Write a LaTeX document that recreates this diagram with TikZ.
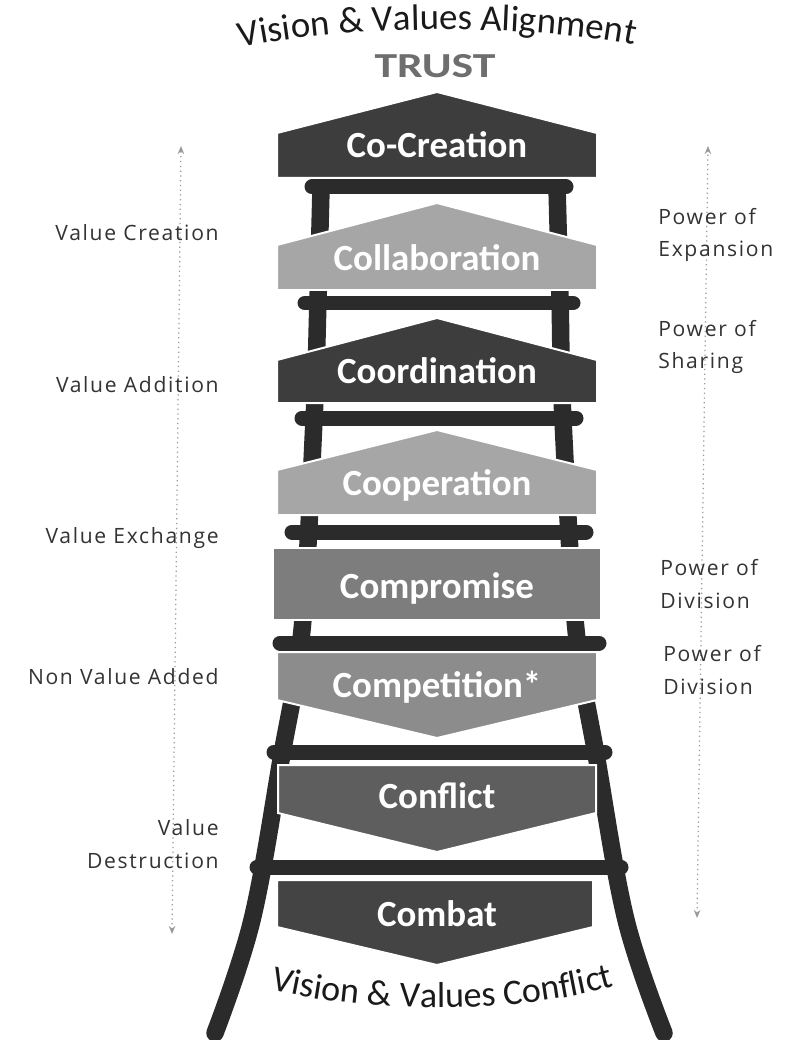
\documentclass[tikz,border=0pt]{standalone}
\usepackage{fontspec}
\setmainfont{Carlito}
\newfontfamily\labfont[LetterSpace=8]{Open Sans}
\usetikzlibrary{arrows.meta,decorations.text}
\definecolor{ladder}{HTML}{2B2B2B}
\definecolor{cdark}{HTML}{3D3D3D}
\definecolor{clight}{HTML}{A6A6A6}
\definecolor{cmid}{HTML}{7D7D7D}
\definecolor{ccomp}{HTML}{8C8C8C}
\definecolor{cconf}{HTML}{5E5E5E}
\definecolor{ccombat}{HTML}{444444}
\definecolor{labtext}{HTML}{333333}
\definecolor{arrowgray}{HTML}{9A9A9A}
\definecolor{trustgray}{HTML}{6E6E6E}
\definecolor{titletext}{HTML}{1A1A1A}
\begin{document}
\begin{tikzpicture}[x=0.02cm,y=-0.02cm,
  leg/.style={draw=ladder, line width=0.35cm, line cap=round},
  rung/.style={draw=ladder, line width=0.3cm, line cap=round},
  boxshape/.style={draw=white, line width=0.04cm, line join=miter},
  boxtext/.style={text=white, font=\bfseries\fontsize{21}{25}\selectfont, inner sep=0, anchor=base},
  lab/.style={text=labtext, font=\labfont\fontsize{12}{18.7}\selectfont, inner sep=0},
  dimarrow/.style={draw=arrowgray, dotted, line width=0.025cm, {Stealth[length=0.16cm,width=0.13cm]}-{Stealth[length=0.16cm,width=0.13cm]}}
]
\fill[white] (0,0) rectangle (786,1040);
\useasboundingbox (0,0) rectangle (786,1040);

% legs
\draw[leg] plot[smooth, tension=0.6] coordinates {(322,150) (318,300) (314,420) (302,630) (281,760) (252,920) (215,1033)};
\draw[leg] plot[smooth, tension=0.6] coordinates {(556,150) (560,300) (563,420) (576,630) (597,760) (626,920) (664,1033)};

% rungs
\draw[rung] (312,187) -- (566,187);
\draw[rung] (305,303) -- (573,303);
\draw[rung] (302,418) -- (576,418);
\draw[rung] (292,532) -- (586,532);
\draw[rung] (280,643) -- (599,643);
\draw[rung] (274,752) -- (605,752);
\draw[rung] (257,867) -- (621,867);

% steps
\filldraw[boxshape, fill=cdark] (277,178) -- (277,133) -- (437,92) -- (597,133) -- (597,178) -- cycle;
\node[boxtext] (cocreation) at (437,158) {Co-Creation};
\filldraw[boxshape, fill=clight] (277,290) -- (277,245) -- (437,203) -- (597,245) -- (597,290) -- cycle;
\node[boxtext] (collab) at (437,271) {Collaboration};
\filldraw[boxshape, fill=cdark] (277,403) -- (277,360) -- (437,318) -- (597,360) -- (597,403) -- cycle;
\node[boxtext] (coord) at (437,383) {Coordination};
\filldraw[boxshape, fill=clight] (277,515) -- (277,470) -- (437,430) -- (597,470) -- (597,515) -- cycle;
\node[boxtext] (coop) at (437,495) {Cooperation};
\filldraw[boxshape, fill=cmid] (273,548) rectangle (601,620);
\node[boxtext] (compromise) at (437,598) {Compromise};
\filldraw[boxshape, fill=ccomp] (277,652) -- (597,652) -- (597,700) -- (437,738) -- (277,700) -- cycle;
\node[boxtext] (competition) at (437,697) {Competition*};
\filldraw[boxshape, fill=cconf] (278,765) -- (596,765) -- (596,813) -- (437,852) -- (278,813) -- cycle;
\node[boxtext] (conflict) at (437,808) {Conflict};
\filldraw[boxshape, fill=ccombat] (277,880) -- (593,880) -- (593,927) -- (437,965) -- (277,927) -- cycle;
\node[boxtext] (combat) at (437,926) {Combat};

% titles
\path[decorate, decoration={text along path, text align=center, text color=titletext,
  text={|\fontsize{21}{25}\selectfont|Vision {\&} Values Alignment}}]
  (215,55) .. controls (320,22) and (555,22) .. (660,51);
\node[font=\bfseries\fontsize{20}{24}\selectfont, text=trustgray, inner sep=0] (trust) at (435,66) {\scalebox{1.3}[1]{TRUST}};
\path[decorate, decoration={text along path, text align=center, text color=titletext,
  text={|\fontsize{20.5}{25}\selectfont|Vision {\&} Values Conflict}}]
  (245,982) .. controls (350,1016) and (530,1018) .. (640,978);

% side arrows
\coordinate (la1) at (181,146);
\coordinate (la2) at (172,934);
\coordinate (ra1) at (708,146);
\coordinate (ra2) at (697,918);
\draw[dimarrow] (la2) -- (la1);
\draw[dimarrow] (ra2) -- (ra1);

% left labels
\node[lab, anchor=east] (vcreate) at (219,233) {Value Creation};
\node[lab, anchor=east] (vadd) at (219,385) {Value Addition};
\node[lab, anchor=east] (vexch) at (219,538) {Value Exchange};
\node[lab, anchor=east] (nonva) at (219,677) {Non Value Added};
\node[lab, anchor=east, align=right] (vdest) at (219,844) {Value\\Destruction};

% right labels
\node[lab, anchor=west, align=left] (pexp) at (658,235) {Power of\\Expansion};
\node[lab, anchor=west, align=left] (pshare) at (658,347) {Power of\\Sharing};
\node[lab, anchor=west, align=left] (pdiv1) at (660,584) {Power of\\Division};
\node[lab, anchor=west, align=left] (pdiv2) at (663,670) {Power of\\Division};
\end{tikzpicture}
\end{document}
